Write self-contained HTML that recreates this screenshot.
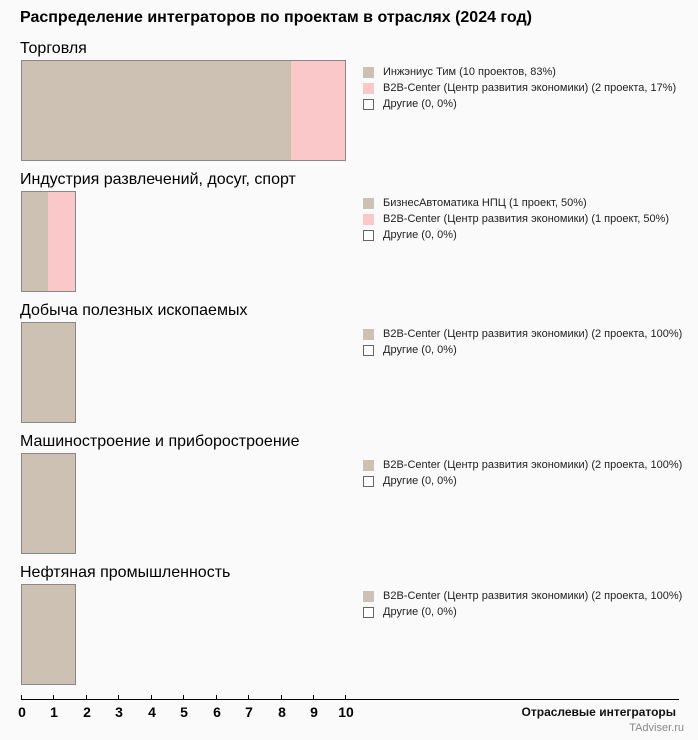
<!DOCTYPE html><html><head><meta charset="utf-8"><style>
body{margin:0;background:#fafafa;font-family:"Liberation Sans",sans-serif;}
.c{position:relative;width:698px;height:740px;overflow:hidden}
.a{position:absolute;white-space:nowrap}
.t{font-size:16px;color:#000}
.bar{position:absolute;border:1px solid #888;box-sizing:border-box;background:#cdc1b3;overflow:hidden}
.pk{position:absolute;top:0;bottom:0;right:0;background:#fbc8c9}
.l{position:absolute;font-size:11px;color:#222;left:383px}
.sq{position:absolute;left:363px;width:11px;height:11px;box-sizing:border-box}
.tk{position:absolute;top:695px;width:1px;height:5px;background:#000}
.n{position:absolute;top:704px;font-size:14px;font-weight:bold;transform:translateX(-50%)}
</style></head><body><div class="c">
<div class="a" style="left:20px;top:9px;font-size:16px;font-weight:bold">Распределение интеграторов по проектам в отраслях (2024 год)</div>

<div class="a t" style="left:20px;top:40px">Торговля</div>
<div class="bar" style="left:21px;top:60px;width:325px;height:101px"><div class="pk" style="width:54px"></div></div>
<div class="sq" style="top:67px;background:#cdc1b3"></div><div class="l" style="top:66px">Инжэниус Тим (10 проектов, 83%)</div>
<div class="sq" style="top:83px;background:#fbc8c9"></div><div class="l" style="top:82px">B2B-Center (Центр развития экономики) (2 проекта, 17%)</div>
<div class="sq" style="top:99px;border:1px solid #666;background:#fff"></div><div class="l" style="top:98px">Другие (0, 0%)</div>

<div class="a t" style="left:20px;top:171px">Индустрия развлечений, досуг, спорт</div>
<div class="bar" style="left:21px;top:191px;width:55px;height:101px"><div class="pk" style="width:27px"></div></div>
<div class="sq" style="top:198px;background:#cdc1b3"></div><div class="l" style="top:197px">БизнесАвтоматика НПЦ (1 проект, 50%)</div>
<div class="sq" style="top:214px;background:#fbc8c9"></div><div class="l" style="top:213px">B2B-Center (Центр развития экономики) (1 проект, 50%)</div>
<div class="sq" style="top:230px;border:1px solid #666;background:#fff"></div><div class="l" style="top:229px">Другие (0, 0%)</div>

<div class="a t" style="left:20px;top:302px">Добыча полезных ископаемых</div>
<div class="bar" style="left:21px;top:322px;width:55px;height:101px"></div>
<div class="sq" style="top:329px;background:#cdc1b3"></div><div class="l" style="top:328px">B2B-Center (Центр развития экономики) (2 проекта, 100%)</div>
<div class="sq" style="top:345px;border:1px solid #666;background:#fff"></div><div class="l" style="top:344px">Другие (0, 0%)</div>

<div class="a t" style="left:20px;top:433px">Машиностроение и приборостроение</div>
<div class="bar" style="left:21px;top:453px;width:55px;height:101px"></div>
<div class="sq" style="top:460px;background:#cdc1b3"></div><div class="l" style="top:459px">B2B-Center (Центр развития экономики) (2 проекта, 100%)</div>
<div class="sq" style="top:476px;border:1px solid #666;background:#fff"></div><div class="l" style="top:475px">Другие (0, 0%)</div>

<div class="a t" style="left:20px;top:564px">Нефтяная промышленность</div>
<div class="bar" style="left:21px;top:584px;width:55px;height:101px"></div>
<div class="sq" style="top:591px;background:#cdc1b3"></div><div class="l" style="top:590px">B2B-Center (Центр развития экономики) (2 проекта, 100%)</div>
<div class="sq" style="top:607px;border:1px solid #666;background:#fff"></div><div class="l" style="top:606px">Другие (0, 0%)</div>

<div class="a" style="left:21px;top:699px;width:658px;height:1px;background:#000"></div>
<div class="tk" style="left:21px"></div><div class="tk" style="left:53px"></div><div class="tk" style="left:86px"></div><div class="tk" style="left:118px"></div><div class="tk" style="left:151px"></div><div class="tk" style="left:183px"></div><div class="tk" style="left:216px"></div><div class="tk" style="left:248px"></div><div class="tk" style="left:281px"></div><div class="tk" style="left:313px"></div><div class="tk" style="left:345px"></div>
<div class="n" style="left:22px">0</div><div class="n" style="left:54px">1</div><div class="n" style="left:87px">2</div><div class="n" style="left:119px">3</div><div class="n" style="left:152px">4</div><div class="n" style="left:184px">5</div><div class="n" style="left:217px">6</div><div class="n" style="left:249px">7</div><div class="n" style="left:282px">8</div><div class="n" style="left:314px">9</div><div class="n" style="left:346px">10</div>
<div class="a" style="right:22px;top:705px;font-size:12px;font-weight:bold;color:#111">Отраслевые интеграторы</div>
<div class="a" style="right:14px;top:722px;font-size:11px;color:#888">TAdviser.ru</div>
</div></body></html>
